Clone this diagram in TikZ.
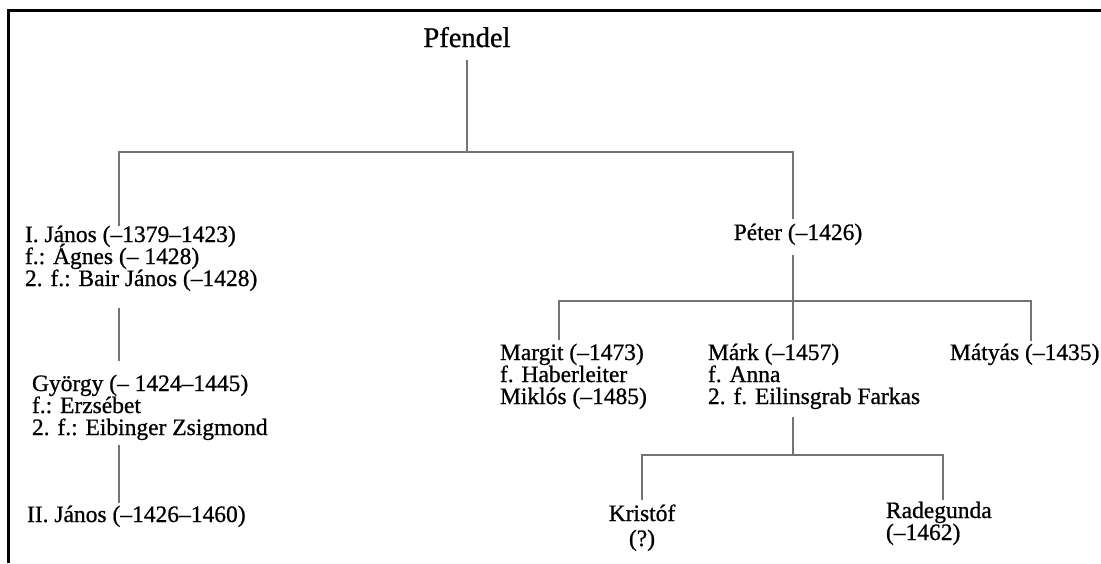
\documentclass[tikz,border=0pt]{standalone}
\usepackage{fontspec}
\setmainfont{Liberation Serif}[FakeBold=0.8]
\tikzset{
  person/.style = {inner sep=0pt, outer sep=0pt, align=left,
                   font={\fontsize{23.5}{22}\selectfont\lineskiplimit=-30pt}},
  link/.style = {draw=black!55, line width=1.3pt},
  frame/.style = {line width=3pt}
}

\begin{document}
\begin{tikzpicture}[x=1pt, y=-1pt]
	\useasboundingbox (0,0) rectangle (1101,563);

	% Frame
	\draw[frame] (8.5,563) -- (8.5,10.5) -- (1101,10.5);

	% Family head
	\node[person, font=\fontsize{28.5}{30}\selectfont, anchor=base] (pfendel) at (467,47) {Pfendel};

	% Branch of János (anchor = last line)
	\node[person, anchor=base west] (janosI) at (25,286) {I. János (–1379–1423)\\f.: Ágnes (– 1428)\\2. f.: Bair János (–1428)};
	\node[person, anchor=base west] (gyorgy) at (32,435) {György (– 1424–1445)\\f.: Erzsébet\\2. f.: Eibinger Zsigmond};
	\node[person, anchor=base west] (janosII) at (27,522) {II. János (–1426–1460)};

	% Branch of Péter
	\node[person, anchor=base] (peter) at (798,240) {Péter (–1426)};
	\node[person, anchor=base west] (margit) at (500,404) {Margit (–1473)\\f. Haberleiter\\Miklós (–1485)};
	\node[person, anchor=base west] (mark) at (708,404) {Márk (–1457)\\f. Anna\\2. f. Eilinsgrab Farkas};
	\node[person, anchor=base west] (matyas) at (950,360) {Mátyás (–1435)};
	\node[person, align=center, font={\fontsize{23.5}{25}\selectfont\lineskiplimit=-30pt}, anchor=base] (kristof) at (642,546) {Kristóf\\(?)};
	\node[person, anchor=base west] (radegunda) at (886,540) {Radegunda\\(–1462)};

	% Junctions
	\coordinate (lx) at (119,152);
	\coordinate (rx) at (793,152);
	\coordinate (ax) at (559,301);
	\coordinate (cx) at (1031,301);
	\coordinate (mx) at (793,455);
	\coordinate (bx) at (943,455);

	% Lines
	\draw[link, shorten <=13pt] (pfendel) -- (pfendel |- lx);
	\draw[link, shorten >=5pt] (janosI.north -| lx) |- (rx) -- (peter.north -| rx);
	\draw[link, shorten <=17pt, shorten >=14pt] (janosI.south -| lx) -- (gyorgy.north -| lx);
	\draw[link, shorten <=5pt, shorten >=3pt] (gyorgy.south -| lx) -- (janosII.north -| lx);
	\draw[link, shorten <=10pt, shorten >=4pt] (peter.south -| rx) -- (mark.north -| rx);
	\draw[link, shorten <=4pt, shorten >=3pt] (margit.north -| ax) |- (cx) -- (matyas.north -| cx);
	\draw[link, shorten <=8pt] (mark.south -| rx) -- (mx);
	\draw[link, shorten <=4pt, shorten >=2pt] (kristof.north) |- (bx) -- (radegunda.north -| bx);
\end{tikzpicture}
\end{document}
